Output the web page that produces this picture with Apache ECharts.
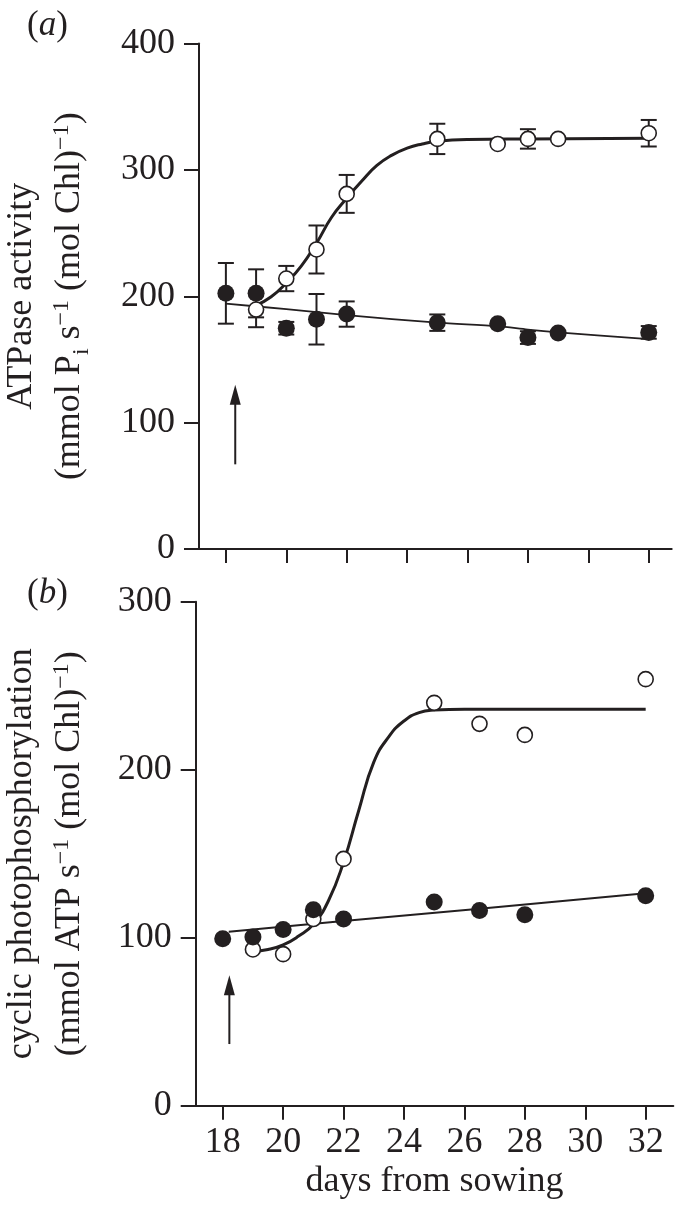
<!DOCTYPE html>
<html>
<head>
<meta charset="utf-8">
<script src="https://cdn.jsdelivr.net/npm/echarts@6/dist/echarts.min.js"></script>
<style>
  html, body { margin: 0; padding: 0; background: #fff; }
  #chart { width: 677px; height: 1206px; }
</style>
</head>
<body>
<div id="chart"></div>
<script>
// ---------- data: panel (a) ATPase activity ----------
const aOpenX   = [19, 20, 21, 22, 25, 27, 28, 29, 32];
const aOpenY   = [189.5, 214, 237, 281, 324.5, 320.5, 324.5, 324.5, 329];
const aOpenErr = [14, 10, 19, 15, 12, 0, 7.7, 0, 10.5];
const aFillX   = [18, 19, 20, 21, 22, 25, 27, 28, 29, 32];
const aFillY   = [202.3, 202.3, 174.7, 181.8, 185.9, 179.1, 178.3, 167.3, 170.9, 171.4];
const aFillErr = [24, 19, 5, 20, 10, 6.5, 0, 5, 0, 5];
const aOpenFitX = [19, 19.5, 20, 20.5, 21, 21.5, 22, 22.5, 23, 23.5, 24, 24.5, 25, 26, 28, 32];
const aOpenFitY = [192.8, 199.6, 210.5, 224, 242, 262.5, 277.5, 291.2, 303.5, 311.7, 317.2, 320.5, 322.6, 324, 324.5, 325];
const aFillFitX = [18, 20, 22, 25, 27, 28, 29, 32];
const aFillFitY = [194.1, 189.8, 185.1, 179.1, 176.3, 173.6, 171.4, 166];
const aArrow = [18.31, 67, 130];      // x, tail value, tip value

// ---------- data: panel (b) cyclic photophosphorylation ----------
const bOpenX = [19, 20, 21, 22, 25, 26.5, 28, 32];
const bOpenY = [93, 90.2, 111.1, 146.9, 239.8, 227.3, 220.7, 253.9];
const bFillX = [18, 19, 20, 21, 22, 25, 26.5, 28, 32];
const bFillY = [99.4, 100.4, 104.9, 116.6, 111.1, 121.3, 116.2, 113.7, 125];
const bOpenFitX = [19, 19.5, 20, 20.5, 21, 21.5, 22, 22.5, 23, 23.5, 24, 24.5, 25, 26, 28, 32];
const bOpenFitY = [92, 93, 95.7, 100.8, 108, 122, 145, 175.6, 204.5, 219.7, 229, 234, 235.5, 236, 236, 236];
const bFillFitX = [18.2, 22, 26.5, 32];
const bFillFitY = [103.5, 110, 117.3, 126.4];
const bArrow = [18.22, 36.7, 77.7];

// ---------- tick labels ----------
const xTicks = [18, 20, 22, 24, 26, 28, 30, 32];
const aYMax = 400, bYMax = 300, yStep = 100;

const INK = '#231f20';
const FONT = 'Liberation Serif';

function pairs(xs, ys) { return xs.map((x, i) => [x, ys[i]]); }
function triples(xs, ys, es) { return xs.map((x, i) => [x, ys[i], es[i]]); }

function errRender(params, api) {
  const x = api.value(0), y = api.value(1), e = api.value(2);
  if (!(e > 0)) return;
  const t = api.coord([x, y + e]), b = api.coord([x, y - e]);
  const hw = 8;
  const st = { stroke: INK, lineWidth: 2 };
  return { type: 'group', children: [
    { type: 'line', shape: { x1: t[0], y1: t[1], x2: b[0], y2: b[1] }, style: st },
    { type: 'line', shape: { x1: t[0] - hw, y1: t[1], x2: t[0] + hw, y2: t[1] }, style: st },
    { type: 'line', shape: { x1: b[0] - hw, y1: b[1], x2: b[0] + hw, y2: b[1] }, style: st }
  ]};
}

function arrowRender(params, api) {
  const x = api.value(0), v0 = api.value(1), v1 = api.value(2);
  const b = api.coord([x, v0]), t = api.coord([x, v1]);
  const hl = 20, hw = 5.5;
  return { type: 'group', children: [
    { type: 'line', shape: { x1: b[0], y1: b[1], x2: t[0], y2: t[1] + hl - 2 }, style: { stroke: INK, lineWidth: 2 } },
    { type: 'polygon', shape: { points: [[t[0], t[1]], [t[0] - hw, t[1] + hl], [t[0] + hw, t[1] + hl]] }, style: { fill: INK } }
  ]};
}

function xAxisCfg(grid, min, max, showLabels) {
  return {
    type: 'value', gridIndex: grid, min: min, max: max,
    axisLine: { show: true, onZero: false, lineStyle: { color: INK, width: 2 } },
    axisTick: { show: true, customValues: xTicks, length: 14, lineStyle: { color: INK, width: 2 } },
    axisLabel: { show: showLabels, customValues: xTicks, color: INK, fontFamily: FONT, fontSize: 36, margin: 19 },
    splitLine: { show: false },
    name: showLabels ? 'days from sowing' : '',
    nameLocation: 'middle', nameGap: 58,
    nameTextStyle: { color: INK, fontFamily: FONT, fontSize: 36 }
  };
}

const richBase = {
  n:   { fontFamily: FONT, fontSize: 36, lineHeight: 48, color: INK },
  sup: { fontFamily: FONT, fontSize: 24, lineHeight: 24, color: INK, verticalAlign: 'top', padding: [4, 0, 0, 0] },
  sub: { fontFamily: FONT, fontSize: 24, lineHeight: 24, color: INK, verticalAlign: 'bottom' }
};

function yAxisCfg(grid, max, name, gap) {
  return {
    type: 'value', gridIndex: grid, min: 0, max: max, interval: yStep,
    axisLine: { show: true, onZero: false, lineStyle: { color: INK, width: 2 } },
    axisTick: { show: true, length: 15, lineStyle: { color: INK, width: 2 } },
    axisLabel: { color: INK, fontFamily: FONT, fontSize: 36, margin: 24 },
    splitLine: { show: false },
    name: name, nameLocation: 'middle', nameRotate: 90, nameGap: gap,
    nameTextStyle: { color: INK, fontFamily: FONT, fontSize: 36, lineHeight: 48, align: 'center', rich: richBase }
  };
}

const aName = '{n|ATPase activity}\n{n|(mmol P}{sub|i}{n| s}{sup|\u22121}{n| (mol Chl)}{sup|\u22121}{n|)}';
const bName = '{n|cyclic photophosphorylation}\n{n|(mmol ATP s}{sup|\u22121}{n| (mol Chl)}{sup|\u22121}{n|)}';

function openScatter(xi, data) {
  return { type: 'scatter', xAxisIndex: xi, yAxisIndex: xi, data: data, symbol: 'circle', symbolSize: 15, z: 4,
    itemStyle: { color: '#fff', borderColor: INK, borderWidth: 1.6, opacity: 1 } };
}
function fillScatter(xi, data) {
  return { type: 'scatter', xAxisIndex: xi, yAxisIndex: xi, data: data, symbol: 'circle', symbolSize: 17, z: 5,
    itemStyle: { color: INK, opacity: 1 } };
}
function fitLine(xi, data, w, smooth) {
  return { type: 'line', xAxisIndex: xi, yAxisIndex: xi, data: data, showSymbol: false, symbol: 'none',
    smooth: smooth, z: 3, lineStyle: { color: INK, width: w } };
}

const chart = echarts.init(document.getElementById('chart'), null, { renderer: 'canvas' });
chart.setOption({
  animation: false,
  backgroundColor: '#fff',
  grid: [
    { left: 199, right: 5.3, top: 43.5, bottom: 657, outerBoundsMode: 'none', containLabel: false },
    { left: 195.7, right: 3.7, top: 601.7, bottom: 100.3, outerBoundsMode: 'none', containLabel: false }
  ],
  xAxis: [ xAxisCfg(0, 17.11, 32.76, false), xAxisCfg(1, 17.106, 32.914, true) ],
  yAxis: [ yAxisCfg(0, aYMax, aName, 105), yAxisCfg(1, bYMax, bName, 102) ],
  graphic: [
    { type: 'text', left: 27, top: 8, style: { text: '{p|(}{i|a}{p|)}', rich: {
      p: { fontFamily: FONT, fontSize: 35, fill: INK, color: INK },
      i: { fontFamily: FONT, fontSize: 35, fontStyle: 'italic', fill: INK, color: INK } } } },
    { type: 'text', left: 27, top: 576, style: { text: '{p|(}{i|b}{p|)}', rich: {
      p: { fontFamily: FONT, fontSize: 35, fill: INK, color: INK },
      i: { fontFamily: FONT, fontSize: 35, fontStyle: 'italic', fill: INK, color: INK } } } }
  ],
  series: [
    { type: 'custom', xAxisIndex: 0, yAxisIndex: 0, renderItem: errRender, data: triples(aOpenX, aOpenY, aOpenErr), z: 2, silent: true },
    { type: 'custom', xAxisIndex: 0, yAxisIndex: 0, renderItem: errRender, data: triples(aFillX, aFillY, aFillErr), z: 2, silent: true },
    fitLine(0, pairs(aOpenFitX, aOpenFitY), 3, 0.5),
    fitLine(0, pairs(aFillFitX, aFillFitY), 1.8, 0.3),
    openScatter(0, pairs(aOpenX, aOpenY)),
    fillScatter(0, pairs(aFillX, aFillY)),
    { type: 'custom', xAxisIndex: 0, yAxisIndex: 0, renderItem: arrowRender, data: [aArrow], z: 2, silent: true },

    fitLine(1, pairs(bOpenFitX, bOpenFitY), 3, 0.5),
    fitLine(1, pairs(bFillFitX, bFillFitY), 2, false),
    openScatter(1, pairs(bOpenX, bOpenY)),
    fillScatter(1, pairs(bFillX, bFillY)),
    { type: 'custom', xAxisIndex: 1, yAxisIndex: 1, renderItem: arrowRender, data: [bArrow], z: 2, silent: true }
  ]
});
</script>
</body>
</html>
